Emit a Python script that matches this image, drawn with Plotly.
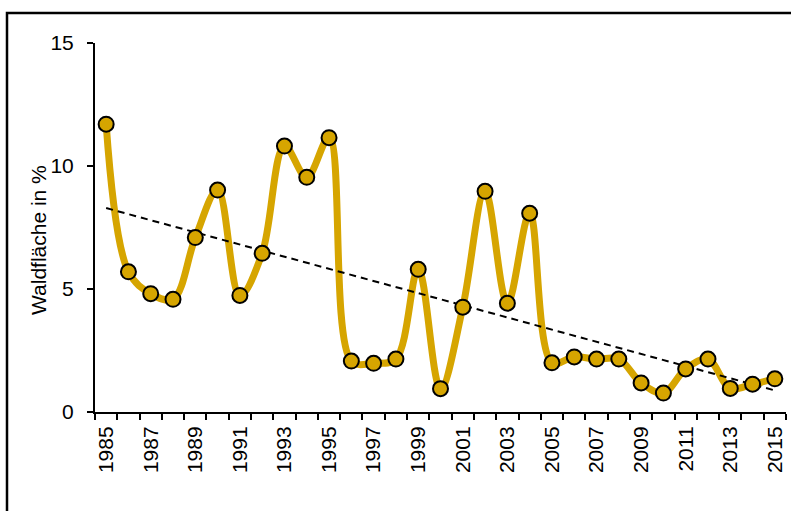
import numpy as np
import plotly.graph_objects as go

years = list(range(1985, 2016))
values = [11.7, 5.70, 4.81, 4.58, 7.09, 9.02, 4.74, 6.45, 10.81, 9.54, 11.15,
          2.07, 1.98, 2.15, 5.80, 0.95, 4.26, 8.97, 4.42, 8.08, 2.00,
          2.24, 2.15, 2.15, 1.18, 0.77, 1.75, 2.15, 0.96, 1.13, 1.35]
tick_years = list(range(1985, 2016, 2))
y_ticks = [0, 5, 10, 15]
y_title = "Waldfläche in %"

gold = "rgb(214,165,0)"

slope, intercept = np.polyfit(years, values, 1)
trend_x = [years[0], years[-1]]
trend_y = [slope * x + intercept for x in trend_x]

fig = go.Figure()
fig.add_trace(go.Scatter(
    x=years, y=values, mode="lines",
    line=dict(color=gold, width=7, shape="spline", smoothing=1.0),
    hoverinfo="skip", showlegend=False))
fig.add_trace(go.Scatter(
    x=trend_x, y=trend_y, mode="lines",
    line=dict(color="black", width=2, dash="7px,5px"),
    showlegend=False))
fig.add_trace(go.Scatter(
    x=years, y=values, mode="markers",
    marker=dict(color=gold, size=15, line=dict(color="black", width=2)),
    showlegend=False))

ml, mr, mt, mb = 95, 5, 43, 99
W, H = 791, 511
pw, ph = W - ml - mr, H - mt - mb

fig.update_layout(
    width=W, height=H,
    margin=dict(l=ml, r=mr, t=mt, b=mb),
    paper_bgcolor="white", plot_bgcolor="white",
    font=dict(family="Liberation Sans, Arial, sans-serif", color="black", size=21),
    shapes=[dict(type="rect", xref="paper", yref="paper",
                 x0=(7 - ml) / pw, x1=(800 - ml) / pw,
                 y0=(H - mb - 530) / ph, y1=(H - mb - 13) / ph,
                 line=dict(color="black", width=2.5), fillcolor="rgba(0,0,0,0)")],
    annotations=[dict(text=y_title, xref="paper", yref="paper",
                      x=(38 - ml) / pw, y=(H - mb - 240) / ph,
                      xanchor="center", yanchor="middle", textangle=-90,
                      showarrow=False, font=dict(size=21))],
)
fig.update_xaxes(
    range=[1984.5, 2015.5], tickmode="array", tickvals=tick_years,
    ticktext=[str(t) for t in tick_years], tickangle=-90,
    ticks="", showgrid=False, zeroline=False, automargin=False,
    showline=True, linecolor="black", linewidth=2,
    tickfont=dict(size=21), ticklabelstandoff=4,
    minor=dict(ticks="outside", tick0=1984.5, dtick=1, ticklen=6,
               tickwidth=2, tickcolor="black", showgrid=False),
)
fig.update_yaxes(
    range=[0, 15], tickmode="array", tickvals=y_ticks,
    ticks="outside", ticklen=6, tickwidth=2, tickcolor="black",
    showgrid=False, zeroline=False, automargin=False,
    showline=True, linecolor="black", linewidth=2,
    tickfont=dict(size=21), ticklabelstandoff=9,
)

fig.write_html("out.html", config={"displayModeBar": False},
               post_script="document.body.style.margin='0';document.body.style.overflow='hidden';")
